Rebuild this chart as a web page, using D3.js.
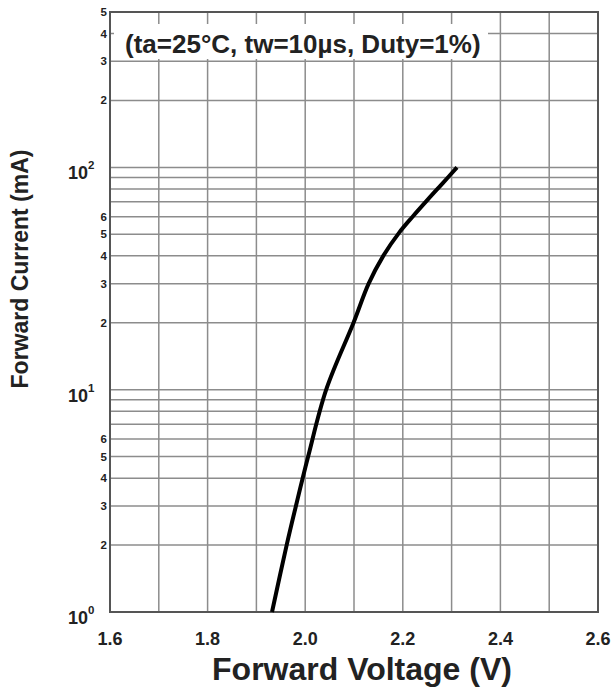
<!DOCTYPE html>
<html>
<head>
<meta charset="utf-8">
<script src="https://cdn.jsdelivr.net/npm/d3@7"></script>
<style>
  body { margin: 0; background: #fff; }
  text { font-family: Arial, "Liberation Sans", sans-serif; font-weight: bold; fill: #222; }
</style>
</head>
<body>
<script>
// forward voltage (V) vs forward current (mA)
const voltage = [1.932, 1.962, 1.981, 2.006, 2.043, 2.099, 2.130, 2.160, 2.193, 2.220, 2.252, 2.282, 2.311];
const current = [1, 2, 3, 5, 10, 20, 30, 40, 51, 60, 72, 85, 100];

const xTicks = [1.6, 1.8, 2.0, 2.2, 2.4, 2.6];
const xGrid = [1.6, 1.7, 1.8, 1.9, 2.0, 2.1, 2.2, 2.3, 2.4, 2.5, 2.6];
const yGrid = [2, 3, 4, 5, 6, 7, 8, 9, 10, 20, 30, 40, 50, 60, 70, 80, 90, 100, 200, 300, 400];
const yMajor = [{v: 1, e: "0"}, {v: 10, e: "1"}, {v: 100, e: "2"}];
const yMinorLabels = [2, 3, 4, 5, 6, 20, 30, 40, 50, 60, 200, 300, 400, 500];

const width = 614, height = 695;
const margin = {left: 110, right: 16, top: 12, bottom: 83};

const svg = d3.select("body").append("svg")
    .attr("width", width)
    .attr("height", height);

const x = d3.scaleLinear().domain([1.6, 2.6]).range([margin.left, width - margin.right]);
const y = d3.scaleLog().domain([1, 500]).range([height - margin.bottom, margin.top]);

// grid
svg.append("g")
    .selectAll("line")
    .data(xGrid)
    .enter().append("line")
    .attr("x1", d => x(d)).attr("x2", d => x(d))
    .attr("y1", y(500)).attr("y2", y(1))
    .attr("stroke", "#8c8c8c")
    .attr("stroke-width", 1.5);

svg.append("g")
    .selectAll("line")
    .data(yGrid)
    .enter().append("line")
    .attr("x1", x(1.6)).attr("x2", x(2.6))
    .attr("y1", d => y(d)).attr("y2", d => y(d))
    .attr("stroke", "#8c8c8c")
    .attr("stroke-width", 1.5);

// white box behind the note
svg.append("rect")
    .attr("x", 114).attr("y", 24)
    .attr("width", 374).attr("height", 35)
    .attr("fill", "#fff");

svg.append("text")
    .attr("x", 125).attr("y", 53)
    .attr("font-size", 26)
    .text("(ta=25°C, tw=10µs, Duty=1%)");

// frame
svg.append("rect")
    .attr("x", x(1.6)).attr("y", y(500))
    .attr("width", x(2.6) - x(1.6))
    .attr("height", y(1) - y(500))
    .attr("fill", "none")
    .attr("stroke", "#555")
    .attr("stroke-width", 2);

// curve
const line = d3.line()
    .x(d => x(d[0]))
    .y(d => y(d[1]))
    .curve(d3.curveCatmullRom.alpha(0.5));

svg.append("path")
    .datum(voltage.map((v, i) => [v, current[i]]))
    .attr("d", line)
    .attr("fill", "none")
    .attr("stroke", "#000")
    .attr("stroke-width", 4)
    .attr("stroke-linejoin", "round");

// x tick labels
svg.append("g")
    .selectAll("text")
    .data(xTicks)
    .enter().append("text")
    .attr("x", d => x(d))
    .attr("y", 645)
    .attr("text-anchor", "middle")
    .attr("font-size", 18)
    .text(d => d.toFixed(1));

// y minor labels
svg.append("g")
    .selectAll("text")
    .data(yMinorLabels)
    .enter().append("text")
    .attr("x", 107)
    .attr("y", d => y(d) + 4)
    .attr("text-anchor", "end")
    .attr("font-size", 11.5)
    .text(d => String(d)[0]);

// y decade labels
const major = svg.append("g")
    .selectAll("text")
    .data(yMajor)
    .enter().append("text")
    .attr("x", 68)
    .attr("y", d => y(d.v) + 12)
    .attr("font-size", 18);
major.append("tspan").text("10");
major.append("tspan")
    .attr("dy", -10)
    .attr("font-size", 11.5)
    .text(d => d.e);

// axis titles
svg.append("text")
    .attr("x", 362).attr("y", 680)
    .attr("text-anchor", "middle")
    .attr("font-size", 32)
    .text("Forward Voltage (V)");

svg.append("text")
    .attr("transform", "translate(28,269) rotate(-90)")
    .attr("text-anchor", "middle")
    .attr("font-size", 23)
    .text("Forward Current (mA)");
</script>
</body>
</html>
